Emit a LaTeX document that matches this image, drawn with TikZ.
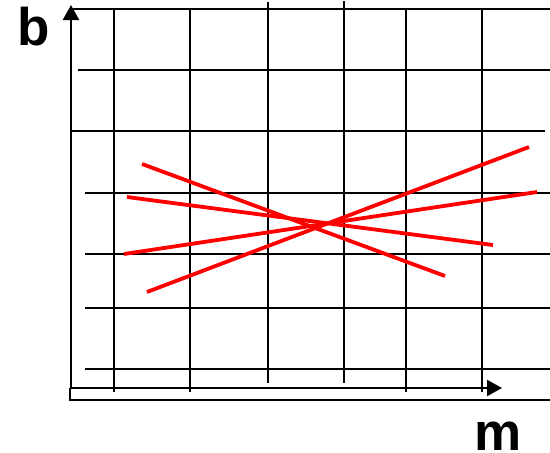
\documentclass[tikz,border=0pt]{standalone}
\usepackage{fontspec}
\setmainfont{Liberation Sans}
\usetikzlibrary{arrows.meta}
\definecolor{fitred}{HTML}{FF0000}
\definecolor{ink}{HTML}{000000}
\tikzset{
  gridline/.style={draw=ink,line width=1.6pt},
  frameline/.style={draw=ink,line width=1.8pt},
  axisline/.style={draw=ink,line width=2.4pt,-{Triangle[length=15pt,width=16pt]}},
  fitline/.style={draw=fitred,line width=3.8pt},
  axlabel/.style={font=\fontsize{53}{53}\selectfont\bfseries,inner sep=0pt,anchor=base}
}

\begin{document}
\begin{tikzpicture}[x=1pt,y=-1pt]
\useasboundingbox (0,0) rectangle (550,453);
\coordinate (origin) at (71,388);
\coordinate (btop) at (71,5);
\coordinate (mend) at (502,388);
% grid, horizontal
\draw[gridline] (72,9) -- (550,9);
\draw[gridline] (78,70) -- (550,70);
\draw[gridline] (70,131) -- (545,131);
\draw[gridline] (85,193) -- (550,193);
\draw[gridline] (85,254) -- (550,254);
\draw[gridline] (85,308) -- (550,308);
\draw[gridline] (85,369) -- (550,369);
% grid, vertical
\draw[gridline] (114,9) -- (114,392);
\draw[gridline] (190,9) -- (190,392);
\draw[gridline] (268,2) -- (268,383);
\draw[gridline] (344,1) -- (344,383);
\draw[gridline] (406,9) -- (406,392);
\draw[gridline] (482,9) -- (482,392);
% frame and axes
\draw[frameline] (70,388) -- (70,400) -- (550,400);
\draw[axisline] (origin) -- (btop);
\draw[axisline] (70,388) -- (mend);
% fitted lines
\draw[fitline] (142,164) -- (445,276);
\draw[fitline] (127,197) -- (493,245);
\draw[fitline] (124,254) -- (537,192);
\draw[fitline] (147,292) -- (529,147);
% labels
\node[axlabel] (blabel) at (34,45) {b};
\node[axlabel] (mlabel) at (498,450) {m};
\end{tikzpicture}
\end{document}
